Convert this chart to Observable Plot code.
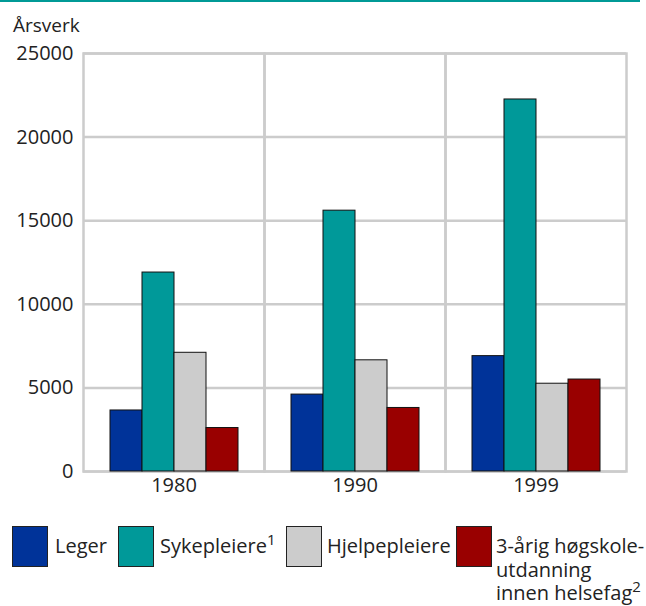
<!DOCTYPE html>
<html>
<head>
<meta charset="utf-8">
<script src="https://cdn.jsdelivr.net/npm/d3@7"></script>
<script src="https://cdn.jsdelivr.net/npm/@observablehq/plot@0.6"></script>
<style>
  body { margin: 0; background: #fff; font-family: "Open Sans", sans-serif; color: #222; }
  #wrap { position: relative; width: 646px; height: 606px; }
  #topline { position: absolute; left: 0; top: 0; width: 640px; height: 2px; background: #009a96; }
  #ylab { position: absolute; left: 13px; top: 13px; font-size: 19px; line-height: 24px; }
  #chart { position: absolute; left: 0; top: 0; }
  .sw { position: absolute; top: 526px; width: 34px; height: 39px; border: 1px solid #222; box-sizing: content-box; }
  .lt { position: absolute; top: 534px; font-size: 20px; line-height: 23.5px; white-space: nowrap; }
  sup { font-size: 15px; line-height: 0; vertical-align: 0; position: relative; top: -8px; }
</style>
</head>
<body>
<div id="wrap">
  <div id="chart"></div>
  <div id="topline"></div>
  <div id="ylab">Årsverk</div>
  <div id="legend"></div>
</div>
<script>
const years = ["1980", "1990", "1999"];
const series = ["Leger", "Sykepleiere", "Hjelpepleiere", "3-årig høgskoleutdanning"];
const colors = ["#003399", "#009999", "#cccccc", "#990000"];
const leger = [3650, 4600, 6900];
const sykepleiere = [11900, 15600, 22250];
const hjelpepleiere = [7100, 6650, 5250];
const hogskole = [2600, 3800, 5500];
const yTicks = [0, 5000, 10000, 15000, 20000, 25000];

const valuesBySeries = [leger, sykepleiere, hjelpepleiere, hogskole];
const data = [];
years.forEach((yr, i) => {
  series.forEach((s, j) => data.push({ year: yr, series: s, value: valuesBySeries[j][i] }));
});

const chart = Plot.plot({
  width: 646,
  height: 510,
  marginTop: 53,
  marginBottom: 39,
  marginLeft: 82,
  marginRight: 19,
  style: { fontFamily: "Open Sans, sans-serif", fontSize: "20px", color: "#222", background: "transparent" },
  fx: { domain: years, padding: 0, label: null, axis: "bottom", tickSize: 0, tickPadding: 6 },
  x: { domain: series, paddingInner: 0, paddingOuter: 0.8, axis: null },
  y: { domain: [0, 25000], ticks: yTicks, tickFormat: d => String(d), label: null, tickSize: 0, tickPadding: 10 },
  color: { domain: series, range: colors },
  marks: [
    Plot.gridY(yTicks, { stroke: "#cccccc", strokeOpacity: 1, strokeWidth: 2.5 }),
    Plot.frame({ stroke: "#cccccc", strokeWidth: 2.5 }),
    Plot.barY(data, { fx: "year", x: "series", y: "value", fill: "series", stroke: "#111", strokeWidth: 1, inset: 0 })
  ]
});
document.getElementById("chart").appendChild(chart);

// legend
const legendLabels = ["Leger", "Sykepleiere<sup>1</sup>", "Hjelpepleiere", "3-årig høgskole-<br>utdanning<br>innen helsefag<sup>2</sup>"];
const swX = [12, 118, 286, 456];
const txtX = [55, 160, 327, 496];
const leg = document.getElementById("legend");
series.forEach((s, i) => {
  const sw = document.createElement("div");
  sw.className = "sw";
  sw.style.left = swX[i] + "px";
  sw.style.background = colors[i];
  leg.appendChild(sw);
  const t = document.createElement("div");
  t.className = "lt";
  t.style.left = txtX[i] + "px";
  t.innerHTML = legendLabels[i];
  leg.appendChild(t);
});
</script>
</body>
</html>
